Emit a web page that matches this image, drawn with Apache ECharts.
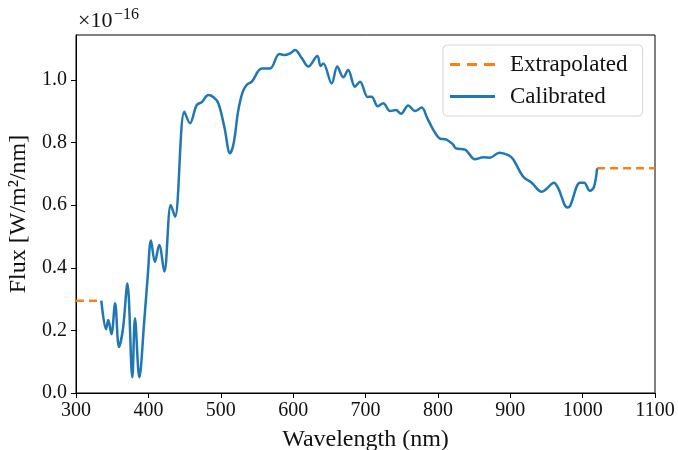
<!DOCTYPE html>
<html>
<head>
<meta charset="utf-8">
<script src="https://cdn.jsdelivr.net/npm/echarts@6/dist/echarts.min.js"></script>
<style>
  html, body { margin: 0; padding: 0; background: #fff; }
  #chart { width: 678px; height: 450px; }
</style>
</head>
<body>
<div id="chart"></div>
<script>
// wavelength (nm) and flux (x1e-16 W/m^2/nm)
var calWave = [335, 341.5, 344.6, 349, 354, 359.4, 365, 371, 377.8, 381.5, 387.5, 394.4, 399,
  403.6, 409, 415, 422, 431, 436.8, 449.7, 457.5, 466.7, 474, 482.8, 490, 496.7, 505, 512.8,
  518, 524, 530, 536, 543, 556.5, 568, 581, 589, 596, 602.6, 612, 621, 633.5, 638, 641.7,
  653.3, 661, 669.3, 676, 685.5, 692.4, 703, 708.5, 717, 724.6, 733.8, 742, 749, 759, 768.4,
  777.6, 785, 793.7, 803, 812, 820.5, 825, 837.5, 851.3, 862.8, 872, 885, 897.3, 904, 918,
  929.6, 943.4, 949.4, 960.4, 966.4, 978.8, 982.5, 996.4, 1002, 1010, 1015.7, 1020];
var calFlux = [0.295, 0.204, 0.233, 0.188, 0.287, 0.147, 0.207, 0.350, 0.050, 0.239, 0.050, 0.233, 0.37,
  0.487, 0.419, 0.473, 0.388, 0.601, 0.563, 0.899, 0.862, 0.920, 0.930, 0.952, 0.945, 0.926, 0.850, 0.766,
  0.800, 0.900, 0.960, 0.985, 0.995, 1.037, 1.037, 1.083, 1.080, 1.085, 1.096, 1.070, 1.043, 1.077, 1.045, 1.053,
  0.989, 1.043, 1.009, 1.032, 0.979, 0.995, 0.946, 0.947, 0.916, 0.926, 0.901, 0.904, 0.892, 0.919, 0.901,
  0.912, 0.880, 0.841, 0.813, 0.810, 0.795, 0.782, 0.778, 0.747, 0.753, 0.752, 0.768, 0.760, 0.747, 0.691,
  0.672, 0.643, 0.651, 0.672, 0.654, 0.593, 0.597, 0.672, 0.672, 0.646, 0.659, 0.718];
var extLeftWave = [300, 335];
var extLeftFlux = [0.295, 0.295];
var extRightWave = [1020, 1100];
var extRightFlux = [0.718, 0.718];
var xTicks = [300, 400, 500, 600, 700, 800, 900, 1000, 1100];
var yTicks = [0.0, 0.2, 0.4, 0.6, 0.8, 1.0];

function pairs(xs, ys) {
  return xs.map(function (x, i) { return [x, ys[i]]; });
}

var FONT = '"Liberation Serif", "DejaVu Serif", serif';
var chart = echarts.init(document.getElementById('chart'), null, { renderer: 'canvas' });

// legend icons: plain line and dashed line (no markers)
var solidIcon = 'path://M0,0h45v3h-45z';
var dashIcon = 'path://M0,0h10v3h-10z M17,0h10v3h-10z M34,0h11v3h-11z';

var option = {
  animation: false,
  textStyle: { fontFamily: FONT },
  grid: { left: 76, right: 23, top: 35, bottom: 57, outerBoundsMode: 'none', containLabel: false,
    show: true, borderColor: '#000', borderWidth: 1, backgroundColor: 'transparent' },
  legend: {
    orient: 'vertical',
    left: 443, top: 45,
    padding: [8, 15, 8, 7],
    itemGap: 9,
    itemWidth: 45, itemHeight: 3,
    backgroundColor: '#fff',
    borderColor: '#d6d6d6', borderWidth: 1, borderRadius: 4,
    textStyle: { fontFamily: FONT, fontSize: 23, color: '#111', padding: [0, 0, 0, 10] },
    data: [
      { name: 'Extrapolated', icon: dashIcon, itemStyle: { color: '#ff7f0e' } },
      { name: 'Calibrated', icon: solidIcon, itemStyle: { color: '#1f77b4' } }
    ]
  },
  xAxis: {
    type: 'value', min: 300, max: 1100, interval: 100,
    name: 'Wavelength (nm)', nameLocation: 'middle', nameGap: 35,
    nameTextStyle: { fontFamily: FONT, fontSize: 24, color: '#111' },
    axisLine: { show: true, lineStyle: { color: '#000', width: 1 } },
    axisTick: { show: true, inside: false, length: 5, lineStyle: { color: '#000' } },
    axisLabel: { fontFamily: FONT, fontSize: 20, color: '#111', margin: 8,
      formatter: function (v) { return xTicks.indexOf(v) >= 0 ? String(v) : ''; } },
    splitLine: { show: false }
  },
  yAxis: {
    type: 'value', min: 0, max: 1.144, interval: 0.2,
    name: 'Flux [W/m\u00B2/nm]', nameLocation: 'middle', nameGap: 43, nameRotate: 90,
    nameTextStyle: { fontFamily: FONT, fontSize: 24, color: '#111' },
    axisLine: { show: true, lineStyle: { color: '#000', width: 1 } },
    axisTick: { show: true, inside: false, length: 5, lineStyle: { color: '#000' } },
    axisLabel: { fontFamily: FONT, fontSize: 20, color: '#111', margin: 9, showMaxLabel: false,
      formatter: function (v) {
        var ok = yTicks.some(function (t) { return Math.abs(t - v) < 1e-6; });
        return ok ? v.toFixed(1) : '';
      } },
    splitLine: { show: false }
  },
  graphic: [
    { type: 'text', left: 78, top: 10,
      style: { text: '\u00D710', fontFamily: FONT, fontSize: 22, fill: '#111' } },
    { type: 'text', left: 114, top: 7,
      style: { text: '\u221216', fontFamily: FONT, fontSize: 16, fill: '#111' } }
  ],
  series: [
    {
      name: 'Extrapolated', type: 'line', showSymbol: false, symbol: 'none',
      lineStyle: { color: '#ff7f0e', width: 2.5, type: [8, 5] },
      itemStyle: { color: '#ff7f0e' },
      data: pairs(extLeftWave, extLeftFlux)
    },
    {
      name: 'Extrapolated', type: 'line', showSymbol: false, symbol: 'none',
      lineStyle: { color: '#ff7f0e', width: 2.5, type: [8, 5] },
      itemStyle: { color: '#ff7f0e' },
      data: pairs(extRightWave, extRightFlux)
    },
    {
      name: 'Calibrated', type: 'line', showSymbol: false, symbol: 'none',
      smooth: 0.35,
      lineStyle: { color: '#1f77b4', width: 2.5 },
      itemStyle: { color: '#1f77b4' },
      data: pairs(calWave, calFlux)
    }
  ]
};
chart.setOption(option);
</script>
</body>
</html>
